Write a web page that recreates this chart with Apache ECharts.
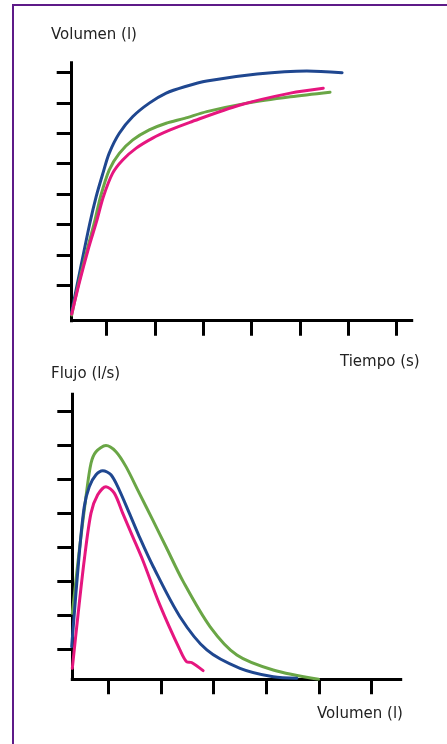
<!DOCTYPE html>
<html>
<head>
<meta charset="utf-8">
<title>Volumen-tiempo y flujo-volumen</title>
<script src="https://cdn.jsdelivr.net/npm/echarts@6/dist/echarts.min.js"></script>
<style>
    body { margin: 0; background: #fff; }
    #main { width: 447px; height: 744px; }
</style>
</head>
<body>
<div id="main"></div>
<script>
// curva volumen-tiempo: [tiempo, volumen]
const vtBlue = [[0.275, 0.13], [0.45, 1.5], [0.65, 3.04], [0.78, 3.91], [0.92, 4.68], [1.05, 5.34], [1.26, 6.0],
    [1.54, 6.55], [1.88, 6.99], [2.23, 7.32], [2.61, 7.53], [3.07, 7.72], [4.11, 7.95], [5.14, 8.05], [5.87, 7.99]];
const vtGreen = [[0.275, 0.02], [0.42, 1.07], [0.6, 2.2], [0.75, 3.1], [0.87, 3.91], [1.05, 4.79], [1.26, 5.34],
    [1.54, 5.78], [1.88, 6.11], [2.23, 6.33], [2.61, 6.49], [3.07, 6.71], [3.9, 6.99], [4.8, 7.2], [5.62, 7.35]];
const vtPink = [[0.275, 0.05], [0.43, 1.07], [0.62, 2.2], [0.79, 3.1], [0.93, 3.91], [1.12, 4.68], [1.33, 5.12],
    [1.61, 5.51], [1.95, 5.84], [2.3, 6.1], [2.72, 6.36], [3.76, 6.93], [4.8, 7.32], [5.48, 7.48]];

// curva flujo-volumen: [volumen, flujo]
const fvGreen = [[0.317, 2.06], [0.44, 3.78], [0.577, 5.5], [0.672, 6.48], [0.767, 6.82], [0.956, 7.0], [1.146, 6.82],
    [1.336, 6.38], [1.588, 5.6], [1.843, 4.81], [2.095, 4.02], [2.42, 3.0], [2.93, 1.67], [3.44, 0.83],
    [4.13, 0.39], [4.99, 0.116]];
const fvBlue = [[0.305, 1.08], [0.45, 3.83], [0.544, 5.2], [0.639, 5.79], [0.767, 6.14], [0.894, 6.26], [1.051, 6.14],
    [1.209, 5.69], [1.399, 5.01], [1.588, 4.32], [1.854, 3.43], [2.36, 1.96], [2.87, 0.98],
    [3.5, 0.44], [4.13, 0.19], [4.58, 0.145]];
const fvPink = [[0.317, 0.44], [0.425, 2.01], [0.544, 3.63], [0.672, 5.01], [0.799, 5.55], [0.956, 5.79], [1.114, 5.6],
    [1.273, 5.01], [1.463, 4.32], [1.653, 3.63], [1.98, 2.3], [2.36, 0.98], [2.49, 0.63], [2.58, 0.61], [2.8, 0.37]];

// marcas de los ejes (sin etiquetas)
const ticksTime = [1, 2, 3, 4, 5, 6, 7];
const ticksVol = [1, 2, 3, 4, 5, 6, 7, 8];
const ticksVol2 = [1, 2, 3, 4, 5, 6];
const ticksFlow = [1, 2, 3, 4, 5, 6, 7, 8];

const BLUE = '#1f4790';
const GREEN = '#6aa646';
const PINK = '#e6167f';
const FONT = 'DejaVu Sans';

function axis(gridIndex, min, max, ticks) {
    return {
        type: 'value',
        gridIndex: gridIndex,
        min: min,
        max: max,
        axisLine: {show: true, onZero: false, lineStyle: {color: '#000', width: 3, cap: 'square'}},
        axisTick: {show: true, length: 15, customValues: ticks, lineStyle: {color: '#000', width: 3}},
        axisLabel: {show: false},
        splitLine: {show: false}
    };
}

function curve(name, data, color, idx) {
    return {
        name: name,
        type: 'line',
        xAxisIndex: idx,
        yAxisIndex: idx,
        data: data,
        smooth: 0.3,
        showSymbol: false,
        lineStyle: {color: color, width: 3, cap: 'round', join: 'round'}
    };
}

function label(text, x, y) {
    return {
        type: 'text',
        left: x,
        top: y,
        style: {text: text, font: '15px "' + FONT + '"', fill: '#222'}
    };
}

let myChart = echarts.init(document.getElementById('main'), null, {renderer: 'canvas'});
let option = {
    animation: false,
    grid: [
        {left: 71.7, top: 62.7, width: 340, height: 258},
        {left: 72.3, top: 394.3, width: 328.4, height: 285}
    ],
    xAxis: [
        axis(0, 0.275, 7.31, ticksTime),
        axis(1, 0.317, 6.55, ticksVol2)
    ],
    yAxis: [
        axis(0, -0.165, 8.32, ticksVol),
        axis(1, 0.116, 8.51, ticksFlow)
    ],
    series: [
        curve('azul', vtBlue, BLUE, 0),
        curve('verde', vtGreen, GREEN, 0),
        curve('rosa', vtPink, PINK, 0),
        curve('verde', fvGreen, GREEN, 1),
        curve('azul', fvBlue, BLUE, 1),
        curve('rosa', fvPink, PINK, 1)
    ],
    graphic: [
        {
            type: 'rect',
            shape: {x: 13, y: 5, width: 500, height: 800},
            style: {fill: 'none', stroke: '#5e1a88', lineWidth: 2},
            silent: true
        },
        label('Volumen (l)', 51, 28),
        label('Tiempo (s)', 340, 355),
        label('Flujo (l/s)', 51, 367),
        label('Volumen (l)', 317, 707)
    ]
};
option && myChart.setOption(option);
</script>
</body>
</html>
